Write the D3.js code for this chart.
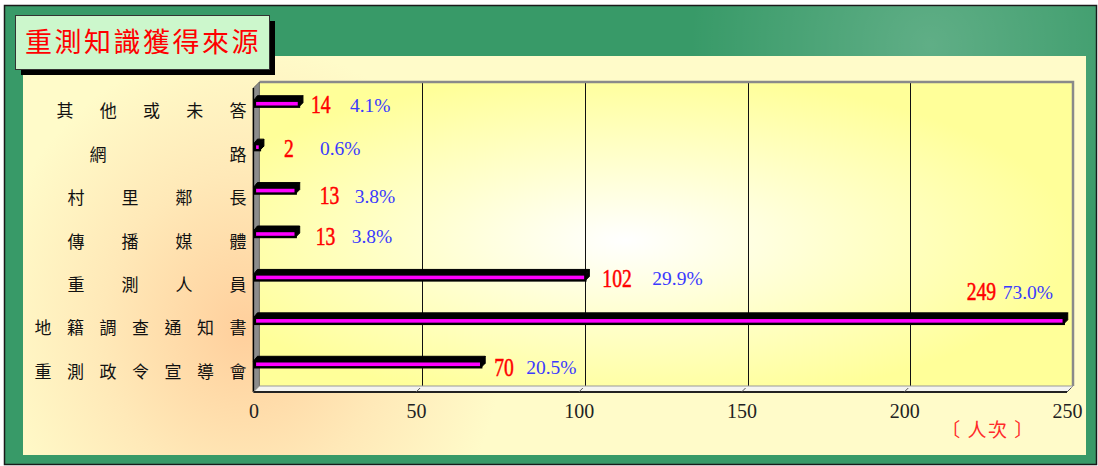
<!DOCTYPE html>
<html><head><meta charset="utf-8">
<script src="https://cdn.jsdelivr.net/npm/d3@7"></script>
<style>html,body{margin:0;padding:0;background:#fff;}svg{display:block;}</style>
</head><body>
<svg id="chart" width="1098" height="466"></svg>
<script>
// ---- data ----
const title = "重測知識獲得來源";
const categories = ["其他或未答","網路","村里鄰長","傳播媒體","重測人員","地籍調查通知書","重測政令宣導會"];
const counts = [14, 2, 13, 13, 102, 249, 70];
const percents = ["4.1%","0.6%","3.8%","3.8%","29.9%","73.0%","20.5%"];
const xTicks = [0, 50, 100, 150, 200, 250];
const unitLabel = "〔 人次 〕";

// ---- label layout (offsets from bar end, px) ----
const valueDx = [12, 24, 24, 20, 17, -97, 13];
const pctDx   = [51, 60, 59, 56, 67, -61, 45];
const labelDy = [1, 1, 5, 2, 1, -29, 3];

const svg = d3.select("#chart");
const defs = svg.append("defs");

// gradients
const gGreen = defs.append("radialGradient").attr("id","gGreen")
  .attr("gradientUnits","userSpaceOnUse").attr("cx",930).attr("cy",45).attr("r",240);
gGreen.append("stop").attr("offset",0).attr("stop-color","#ffffff").attr("stop-opacity",0.2);
gGreen.append("stop").attr("offset",1).attr("stop-color","#ffffff").attr("stop-opacity",0);

const gCream = defs.append("radialGradient").attr("id","gCream")
  .attr("gradientUnits","userSpaceOnUse").attr("cx",245).attr("cy",330).attr("r",260)
  .attr("gradientTransform","translate(245,330) scale(1,1.1) translate(-245,-330)");
gCream.append("stop").attr("offset",0).attr("stop-color","#ffcf9c");
gCream.append("stop").attr("offset",0.55).attr("stop-color","#ffe9b8");
gCream.append("stop").attr("offset",1).attr("stop-color","#fffbc9");

const gWall = defs.append("radialGradient").attr("id","gWall")
  .attr("cx",0.45).attr("cy",0.52).attr("r",0.55);
gWall.append("stop").attr("offset",0).attr("stop-color","#ffffff");
gWall.append("stop").attr("offset",0.45).attr("stop-color","#ffffd0");
gWall.append("stop").attr("offset",1).attr("stop-color","#ffff99");

// outer frame
svg.append("rect").attr("x",4.5).attr("y",5.5).attr("width",1092).attr("height",459)
  .attr("fill","#389a68").attr("stroke","#1a1a1a").attr("stroke-width",1.5);
svg.append("rect").attr("x",5).attr("y",6).attr("width",1091).attr("height",458).attr("fill","url(#gGreen)");

// cream panel
svg.append("rect").attr("x",23).attr("y",56).attr("width",1063).attr("height",399).attr("fill","#fffbc9");
svg.append("rect").attr("x",23).attr("y",56).attr("width",1063).attr("height",399).attr("fill","url(#gCream)");

// title box
svg.append("rect").attr("x",21).attr("y",21).attr("width",254).attr("height",54).attr("fill","#000");
svg.append("rect").attr("x",15.5).attr("y",15.5).attr("width",254).attr("height",54)
  .attr("fill","#ccf7cc").attr("stroke","#333").attr("stroke-width",1);
svg.append("text").attr("x",143).attr("y",52).attr("text-anchor","middle")
  .attr("font-family","'Noto Sans CJK TC','Noto Sans CJK SC',sans-serif").attr("font-size",27)
  .attr("letter-spacing",2.5).attr("fill","#ff0000").text(title);

// ---- scales ----
const depth = 6;
const x = d3.scaleLinear().domain([0, 250]).range([253.4, 1067]);
const y = d3.scaleBand().domain(categories).range([82, 386]);
const x0 = x(0);
const wallTop = 82, wallBottom = 386, front = wallBottom + depth;

// back wall
svg.append("rect").attr("x",x0+depth).attr("y",wallTop).attr("width",x(250)-x0).attr("height",wallBottom-wallTop)
  .attr("fill","url(#gWall)");

// grid lines
svg.append("g").selectAll("line").data(xTicks.slice(1)).join("line")
  .attr("x1",d=>Math.round(x(d)+depth)+0.5).attr("x2",d=>Math.round(x(d)+depth)+0.5)
  .attr("y1",wallTop).attr("y2",wallBottom).attr("stroke","#111").attr("stroke-width",1);

// wall border
svg.append("path").attr("d",`M${x0+depth},${wallTop} H${x(250)+depth} V${wallBottom}`)
  .attr("fill","none").attr("stroke","#8a8a8a").attr("stroke-width",2.5);

// left wall
svg.append("path").attr("d",`M${x0},${wallTop+depth} L${x0+depth},${wallTop} L${x0+depth},${wallBottom} L${x0},${front} Z`)
  .attr("fill","#8c8c8c").attr("stroke","#555").attr("stroke-width",0.8);
svg.append("line").attr("x1",x0).attr("x2",x0).attr("y1",wallTop+depth).attr("y2",front)
  .attr("stroke","#000").attr("stroke-width",1.5);

// floor
svg.append("path").attr("d",`M${x0},${front} L${x0+depth},${wallBottom} L${x(250)+depth},${wallBottom} L${x(250)},${front} Z`)
  .attr("fill","#f4f4f0").attr("stroke","#999").attr("stroke-width",1);
svg.append("line").attr("x1",x0).attr("x2",x(250)).attr("y1",front).attr("y2",front)
  .attr("stroke","#222").attr("stroke-width",1.8);
svg.append("g").selectAll("line").data(xTicks.slice(1)).join("line")
  .attr("x1",d=>x(d)).attr("y1",front).attr("x2",d=>x(d)+4).attr("y2",front-4)
  .attr("stroke","#555").attr("stroke-width",1);

// ---- bars ----
const bars = svg.append("g");
const bh = 6, bd = 4;
categories.forEach((c,i)=>{
  const cy = y(c) + y.bandwidth()/2;
  const xe = x(counts[i]);
  bars.append("path").attr("d",`M${x0},${cy-bh/2} L${x0+bd},${cy-bh/2-bd-1} L${xe+bd},${cy-bh/2-bd-1} L${xe},${cy-bh/2} Z`)
    .attr("fill","#000").attr("stroke","#000").attr("stroke-width",1);
  bars.append("path").attr("d",`M${xe},${cy-bh/2} L${xe+bd},${cy-bh/2-bd-1} L${xe+bd},${cy+bh/2-bd} L${xe},${cy+bh/2} Z`)
    .attr("fill","#000").attr("stroke","#000").attr("stroke-width",1).attr("stroke-linejoin","round");
  bars.append("rect").attr("x",x0+1.5).attr("y",cy-bh/2).attr("width",Math.max(xe-x0-1.5,1)).attr("height",bh)
    .attr("fill","#ff00ff").attr("stroke","#000").attr("stroke-width",2.4);
});

// ---- value + percent labels ----
const lab = svg.append("g");
categories.forEach((c,i)=>{
  const cy = y(c) + y.bandwidth()/2 + labelDy[i];
  const xe = x(counts[i]);
  const vs = String(counts[i]);
  lab.append("text").attr("x",xe+valueDx[i]).attr("y",cy+8.5)
    .attr("font-family","'Liberation Serif','Times New Roman',serif").attr("font-size",25)
    .attr("stroke","#ff0000").attr("stroke-width",0.5)
    .attr("fill","#ff0000").attr("textLength",vs.length*9.8).attr("lengthAdjust","spacingAndGlyphs")
    .text(vs);
  lab.append("text").attr("x",xe+pctDx[i]).attr("y",cy+7)
    .attr("font-family","'Liberation Serif','Times New Roman',serif").attr("font-size",19.5)
    .attr("fill","#3a3aff").text(percents[i]);
});

// ---- category labels (distributed) ----
const cl = svg.append("g").attr("font-family","'Noto Sans CJK TC','Noto Sans CJK SC',sans-serif")
  .attr("font-size",17).attr("fill","#111").attr("text-anchor","middle");
categories.forEach((c,i)=>{
  const cy = y(c) + y.bandwidth()/2 + 7.5;
  const chars = Array.from(c);
  const n = chars.length;
  const gap = (118 + 11*n)/(n-1);
  chars.forEach((ch,k)=>{
    cl.append("text").attr("x",238 - (n-1-k)*gap).attr("y",cy+6).text(ch);
  });
});

// ---- x axis ----
const axis = d3.axisBottom(x).tickValues(xTicks).tickSize(0).tickPadding(0).tickFormat(d3.format("d"));
const ax = svg.append("g").attr("transform",`translate(0,${front})`).call(axis);
ax.select(".domain").remove();
ax.selectAll("text").attr("y",26).attr("dy",0)
  .attr("font-family","'Liberation Serif','Times New Roman',serif").attr("font-size",20).attr("fill","#222");

// unit label
svg.append("text").attr("x",988).attr("y",437).attr("text-anchor","middle")
  .attr("font-family","'Noto Sans CJK TC','Noto Sans CJK SC',sans-serif").attr("font-size",19)
  .attr("letter-spacing",1.5).attr("fill","#ff2a2a").text(unitLabel);
</script>
</body></html>
